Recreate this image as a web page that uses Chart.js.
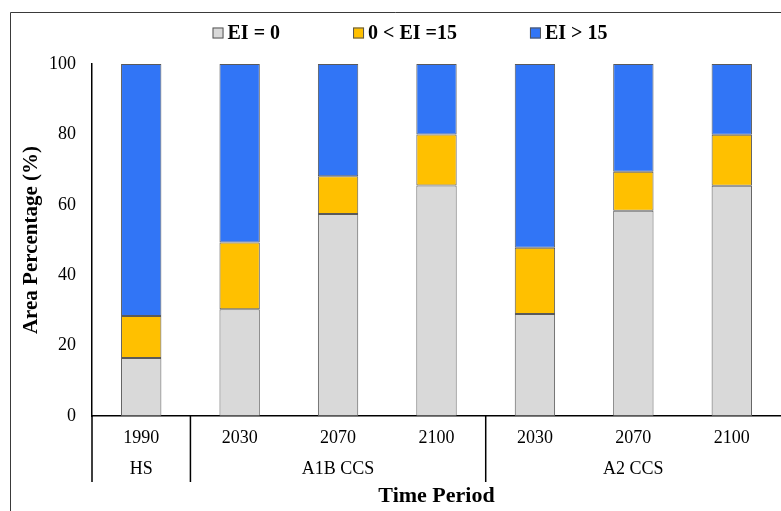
<!DOCTYPE html>
<html>
<head>
<meta charset="utf-8">
<script src="https://cdn.jsdelivr.net/npm/chart.js@4.4.1/dist/chart.umd.min.js"></script>
<style>
  html, body { margin: 0; padding: 0; background: #fff; overflow: hidden; }
  #wrap { width: 781px; height: 511px; position: relative; }
</style>
</head>
<body>
<div id="wrap"><canvas id="c" width="781" height="511"></canvas></div>
<script>
// ---- data ----
const categories = ['1990', '2030', '2070', '2100', '2030', '2070', '2100'];
const groupLabels = ['HS', 'A1B CCS', 'A2 CCS'];
const groupSpans = [1, 3, 3];
const seriesNames = ['EI = 0', '0 < EI =15', 'EI > 15'];
const eiZero = [16.5, 30.3, 57.4, 65.5, 29.0, 58.3, 65.4];
const eiMid = [11.9, 19.0, 10.7, 14.5, 18.8, 11.1, 14.5];
const eiHigh = [71.6, 50.7, 31.9, 20.0, 52.2, 30.6, 20.1];
const yTicks = [0, 20, 40, 60, 80, 100];

const SERIF = '"Liberation Serif", "Times New Roman", serif';
const colors = ['#D9D9D9', '#FFC000', '#3175F6'];
const borderCol = '#5a5a5a';

const groupPlugin = {
  id: 'groups',
  afterDraw(chart) {
    const ctx = chart.ctx;
    const xs = chart.scales.x;
    const area = chart.chartArea;
    ctx.save();
    // outer frame
    ctx.strokeStyle = '#3a3a3a';
    ctx.lineWidth = 1;
    ctx.beginPath();
    ctx.moveTo(10.5, 511);
    ctx.lineTo(10.5, 12.5);
    ctx.lineTo(781, 12.5);
    ctx.stroke();

    // group separators and labels
    const step = xs.getPixelForValue(1) - xs.getPixelForValue(0);
    ctx.strokeStyle = '#000';
    ctx.lineWidth = 1.5;
    let idx = 0;
    const bounds = [];
    for (let g = 0; g < groupSpans.length; g++) {
      const start = xs.getPixelForValue(idx) - step / 2;
      const end = xs.getPixelForValue(idx + groupSpans[g] - 1) + step / 2;
      bounds.push(start);
      ctx.fillStyle = '#000';
      ctx.font = '18px ' + SERIF;
      ctx.textAlign = 'center';
      ctx.textBaseline = 'middle';
      ctx.fillText(groupLabels[g], (start + end) / 2, 469);
      idx += groupSpans[g];
    }
    ctx.beginPath();
    bounds.forEach(b => { ctx.moveTo(b, area.bottom); ctx.lineTo(b, 482); });
    ctx.stroke();

    // legend
    ctx.font = 'bold 20px ' + SERIF;
    const box = 11, gapBT = 4, gap = 73;
    const widths = seriesNames.map(s => ctx.measureText(s).width);
    const total = widths.reduce((a, w) => a + box + gapBT + w, 0) + gap * (seriesNames.length - 1);
    let x = 410 - total / 2;
    const cy = 33;
    chart.data.datasets.forEach((ds, i) => {
      ctx.fillStyle = ds.backgroundColor;
      ctx.fillRect(x, cy - box / 2, box, box);
      ctx.strokeStyle = '#555';
      ctx.lineWidth = 1;
      ctx.strokeRect(x + 0.5, cy - box / 2 + 0.5, box - 1, box - 1);
      ctx.fillStyle = '#000';
      ctx.textAlign = 'left';
      ctx.textBaseline = 'middle';
      ctx.fillText(ds.label, x + box + gapBT, cy + 1);
      x += box + gapBT + widths[i] + gap;
    });
    ctx.restore();
  }
};

new Chart(document.getElementById('c'), {
  type: 'bar',
  data: {
    labels: categories,
    datasets: [
      { label: seriesNames[0], data: eiZero, backgroundColor: colors[0] },
      { label: seriesNames[1], data: eiMid, backgroundColor: colors[1] },
      { label: seriesNames[2], data: eiHigh, backgroundColor: colors[2] }
    ].map(d => Object.assign(d, {
      borderColor: borderCol, borderWidth: 1, borderSkipped: false,
      barPercentage: 0.41, categoryPercentage: 1.0
    }))
  },
  plugins: [groupPlugin],
  options: {
    responsive: false,
    animation: false,
    devicePixelRatio: 1,
    layout: { padding: { top: 64, left: 0, right: 0, bottom: 0 } },
    plugins: { legend: { display: false }, tooltip: { enabled: false } },
    scales: {
      x: {
        stacked: true,
        grid: { display: false, drawTicks: false },
        border: { display: true, color: '#000', width: 1.5 },
        ticks: { color: '#000', font: { family: SERIF, size: 18 }, padding: 11, maxRotation: 0 },
        title: { display: true, text: 'Time Period', color: '#000',
                 font: { family: SERIF, size: 22, weight: 'bold' }, padding: { top: 0, bottom: 1 } },
        afterFit(s) { s.height = 95; }
      },
      y: {
        stacked: true,
        min: 0, max: 100,
        afterBuildTicks(s) { s.ticks = yTicks.map(v => ({ value: v })); },
        grid: { display: false, drawTicks: false },
        border: { display: true, color: '#000', width: 1.5 },
        ticks: { color: '#000', font: { family: SERIF, size: 18 }, padding: 16 },
        title: { display: true, text: 'Area Percentage (%)', color: '#000',
                 font: { family: SERIF, size: 21, weight: 'bold' }, padding: { top: 19, bottom: 0 } },
        afterFit(s) { s.width = 92; }
      }
    }
  }
});
</script>
</body>
</html>
